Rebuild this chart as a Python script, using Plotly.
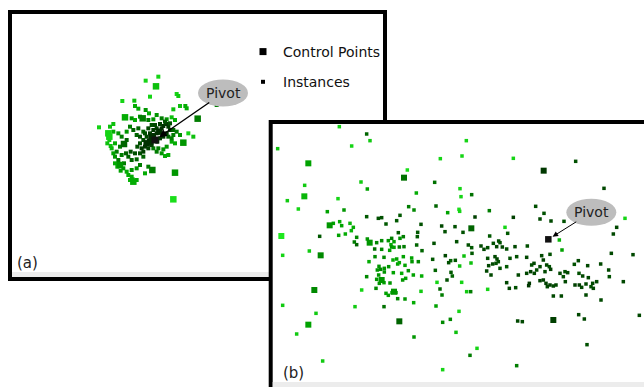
import plotly.graph_objects as go

W, H = 644, 387

# ---------------- Panel (a) data (projection coordinates) ----------------
a_inst_x = [437, 475, 450, 530, 535, 367, 403, 405, 415, 437, 447, 520, 540, 556, 560, 650,
            297, 330, 340, 322, 332, 345, 395, 405, 420, 445, 460, 470, 485, 500, 515, 525,
            565, 580, 515, 525, 500, 490, 475, 485, 495, 505, 470, 460,
            340, 355, 365, 380, 390, 400, 415, 430, 410, 380, 360, 350, 345, 355, 345, 372,
            385, 395, 410, 420, 430, 405, 392, 378, 365,
            370, 380, 395, 385, 395, 410, 435, 445, 420, 410,
            425, 435, 462, 470, 485, 490, 498, 505, 510, 500, 490, 480, 472, 455, 445, 430,
            460, 470, 450, 440, 430, 420, 412, 420, 435, 445, 455, 465, 480, 495, 510, 520,
            530, 540, 520, 505, 515,
            328, 335, 340, 352, 362, 390, 398]
a_inst_y = [242, 230, 290, 282, 288, 303, 302, 318, 326, 330, 340, 328, 318, 318, 325, 315,
            382, 380, 372, 430, 438, 430, 355, 360, 350, 360, 358, 345, 355, 358, 352, 360,
            400, 410, 425, 430, 440, 448, 445, 460, 468, 465, 455, 445,
            395, 400, 410, 395, 380, 390, 385, 395, 405, 420, 440, 455, 470, 480, 490, 490,
            470, 480, 478, 460, 470, 460, 455, 460, 465,
            505, 515, 510, 525, 530, 540, 520, 500, 495, 505,
            445, 440, 405, 400, 385, 378, 372, 380, 390, 400, 410, 415, 425, 435, 445, 455,
            390, 385, 400, 410, 420, 430, 440, 410, 400, 385, 375, 375, 372, 365, 370, 390,
            395, 405, 405, 410, 415,
            420, 445, 460, 500, 512, 540, 538]
a_inst_c = [0.1, 0.1, 0.1, 0.1, 0.15, 0.1, 0.2, 0.3, 0.3, 0.4, 0.3, 0.2, 0.2, 0.3, 0.3, 0.5,
            0.1, 0.2, 0.2, 0.2, 0.2, 0.3, 0.4, 0.3, 0.4, 0.5, 0.4, 0.4, 0.5, 0.4, 0.2, 0.3,
            0.1, 0.2, 0.3, 0.3, 0.4, 0.4, 0.5, 0.4, 0.3, 0.3, 0.5, 0.5,
            0.3, 0.4, 0.5, 0.4, 0.5, 0.6, 0.6, 0.6, 0.6, 0.6, 0.5, 0.5, 0.4, 0.5, 0.3, 0.5,
            0.6, 0.6, 0.6, 0.7, 0.6, 0.7, 0.7, 0.6, 0.5,
            0.4, 0.3, 0.4, 0.3, 0.3, 0.3, 0.3, 0.5, 0.5, 0.4,
            0.85, 0.85, 0.9, 0.9, 0.9, 0.9, 0.85, 0.85, 0.8, 0.85, 0.85, 0.85, 0.85, 0.8, 0.8, 0.8,
            0.85, 0.8, 0.8, 0.75, 0.7, 0.7, 0.7, 0.7, 0.7, 0.75, 0.7, 0.75, 0.8, 0.7, 0.7, 0.6,
            0.5, 0.4, 0.5, 0.6, 0.5,
            0.15, 0.25, 0.35, 0.3, 0.35, 0.25, 0.3]

a_ctrl_x = [468, 593, 375, 325, 328, 428, 550, 372, 360, 400, 457, 525, 520, 440, 450, 455, 478]
a_ctrl_y = [259, 356, 352, 400, 410, 355, 428, 432, 495, 545, 510, 518, 598, 430, 425, 410, 395]
a_ctrl_c = [0.2, 0.5, 0.3, 0.1, 0.1, 0.5, 0.4, 0.6, 0.4, 0.3, 0.5, 0.4, 0.05, 0.9, 0.9, 0.9, 0.9]

a_pivot_x = [465]
a_pivot_y = [420]

# ---------------- Panel (b) data (projection coordinates) ----------------
b_inst_x = [238, 320, 330, 275, 53, 619, 606, 541, 760, 947, 442, 303, 524, 134, 322, 600, 1032, 469,
            635, 603, 234, 82, 528, 446, 597, 599, 115, 462, 252, 202, 563, 688, 827, 852, 320, 355,
            365, 410, 420, 378, 645, 760, 840, 873, 912, 1095, 1070, 1060, 220, 239, 245, 270, 280,
            274, 236, 256, 179, 290, 483, 545, 585, 735, 473, 472, 415, 430, 420, 395, 402, 555,
            609, 689, 743, 716, 720, 898, 322, 350, 365, 385, 393, 290, 283, 344, 365, 389, 395,
            402, 418, 432, 470, 522, 590, 625, 635, 663, 672, 683, 700, 710, 727, 740, 765, 802,
            68, 148, 345, 372, 410, 399, 430, 455, 486, 518, 556, 572, 586, 612, 636, 683, 705,
            711, 715, 750, 770, 800, 845, 870, 906, 1054, 1119, 327, 357, 373, 386, 413, 418, 435,
            456, 475, 566, 599, 633, 686, 698, 708, 740, 815, 822, 850, 840, 860, 868, 943, 955,
            983, 1022, 352, 362, 373, 356, 400, 425, 445, 460, 485, 526, 573, 577, 680, 693, 720,
            775, 800, 812, 823, 830, 855, 872, 900, 915, 923, 957, 968, 985, 1046, 1048, 320, 358,
            372, 350, 390, 396, 408, 428, 437, 531, 561, 605, 620, 683, 740, 748, 767, 808, 806,
            840, 850, 858, 862, 870, 880, 888, 910, 916, 945, 958, 965, 978, 993, 998, 1010, 1000,
            1090, 305, 348, 378, 385, 483, 540, 546, 632, 880, 904, 978, 1023, 413, 435, 461, 528,
            372, 285, 68, 168, 110, 548, 571, 597, 588, 462, 773, 787, 956, 973, 1138, 981, 651,
            630, 188, 770, 548]
b_inst_y = [50, 72, 92, 108, 116, 92, 138, 146, 145, 154, 180, 216, 217, 226, 237, 236, 235, 249,
            254, 260, 266, 272, 288, 290, 298, 304, 297, 300, 300, 305, 308, 302, 289, 310, 320, 325,
            323, 332, 316, 342, 321, 322, 327, 333, 334, 325, 352, 372, 340, 335, 347, 340, 352,
            362, 376, 372, 379, 382, 343, 348, 350, 352, 367, 380, 368, 380, 385, 385, 395, 365,
            367, 378, 370, 393, 398, 390, 387, 398, 392, 392, 404, 404, 396, 417, 418, 421, 411,
            412, 411, 410, 405, 400, 395, 405, 413, 408, 418, 413, 400, 410, 411, 417, 410, 408,
            436, 423, 440, 442, 447, 450, 440, 444, 422, 448, 437, 452, 451, 438, 430, 445, 440,
            447, 455, 445, 440, 442, 437, 433, 420, 430, 434, 455, 469, 475, 470, 462, 458, 466,
            455, 455, 458, 468, 459, 467, 462, 460, 470, 465, 460, 450, 470, 465, 470, 463, 452,
            467, 462, 480, 478, 486, 495, 488, 490, 482, 495, 498, 481, 487, 498, 483, 495, 475,
            495, 490, 485, 490, 480, 485, 478, 490, 485, 488, 490, 498, 503, 480, 500, 500, 520,
            518, 508, 519, 548, 548, 510, 505, 517, 510, 517, 545, 538, 518, 535, 533, 520, 527,
            512, 510, 520, 530, 525, 528, 525, 500, 515, 525, 525, 532, 522, 530, 520, 515, 535,
            515, 540, 535, 550, 556, 544, 537, 555, 545, 558, 558, 555, 570, 566, 567, 578, 588,
            590, 590, 586, 610, 672, 637, 628, 604, 667, 681, 633, 635, 614, 627, 616, 704, 715,
            736, 753, 767, 779]
b_inst_c = [0.1, 0.6, 0.15, 0.1, 0.2, 0.1, 0.1, 0.1, 0.1, 0.7, 0.05, 0.15, 0.55, 0.15, 0.35, 0.1, 0.75, 0.3,
            0.55, 0.1, 0.1, 0.15, 0.6, 0.5, 0.05, 0.1, 0.1, 0.45, 0.4, 0.35, 0.35, 0.5, 0.7, 0.7, 0.65, 0.7,
            0.7, 0.65, 0.65, 0.65, 0.8, 0.8, 0.75, 0.75, 0.7, 0.1, 0.75, 0.75, 0.35, 0.3, 0.35, 0.25, 0.3,
            0.25, 0.35, 0.3, 0.65, 0.45, 0.7, 0.75, 0.7, 0.1, 0.65, 0.65, 0.65, 0.5, 0.4, 0.5, 0.35, 0.7,
            0.7, 0.65, 0.65, 0.7, 0.7, 0.25, 0.4, 0.45, 0.45, 0.4, 0.3, 0.6, 0.5, 0.55, 0.45, 0.35, 0.4,
            0.35, 0.5, 0.5, 0.6, 0.7, 0.7, 0.7, 0.65, 0.75, 0.75, 0.7, 0.7, 0.75, 0.75, 0.7, 0.75, 0.7,
            0.1, 0.15, 0.45, 0.45, 0.35, 0.3, 0.35, 0.35, 0.6, 0.65, 0.75, 0.6, 0.65, 0.2, 0.65, 0.7, 0.75,
            0.75, 0.7, 0.7, 0.7, 0.75, 0.75, 0.7, 0.35, 0.75, 0.75, 0.3, 0.4, 0.4, 0.4, 0.35, 0.3, 0.35,
            0.4, 0.45, 0.7, 0.2, 0.2, 0.75, 0.75, 0.7, 0.65, 0.7, 0.75, 0.8, 0.75, 0.75, 0.7, 0.7, 0.75,
            0.75, 0.75, 0.4, 0.45, 0.4, 0.4, 0.35, 0.3, 0.4, 0.35, 0.3, 0.6, 0.65, 0.6, 0.75, 0.75, 0.7,
            0.75, 0.75, 0.8, 0.75, 0.7, 0.75, 0.8, 0.75, 0.7, 0.75, 0.7, 0.75, 0.75, 0.75, 0.7, 0.45, 0.4,
            0.35, 0.4, 0.4, 0.35, 0.4, 0.4, 0.35, 0.1, 0.7, 0.1, 0.15, 0.1, 0.75, 0.75, 0.7, 0.85, 0.85,
            0.8, 0.8, 0.8, 0.75, 0.8, 0.75, 0.75, 0.7, 0.75, 0.8, 0.8, 0.75, 0.75, 0.7, 0.75, 0.75, 0.75,
            0.75, 0.1, 0.45, 0.35, 0.35, 0.15, 0.6, 0.5, 0.5, 0.75, 0.75, 0.75, 0.75, 0.45, 0.4, 0.3, 0.35,
            0.55, 0.15, 0.15, 0.15, 0.15, 0.45, 0.45, 0.1, 0.2, 0.4, 0.75, 0.75, 0.75, 0.75, 0.75, 0.7, 0.1,
            0.5, 0.15, 0.5, 0.1]

b_ctrl_x = [145, 851, 432, 133, 209, 634, 64, 329, 182, 365, 402, 163, 145, 418, 880]
b_ctrl_y = [160, 182, 203, 259, 346, 355, 378, 398, 436, 510, 545, 540, 644, 634, 630]
b_ctrl_c = [0.35, 0.85, 0.55, 0.25, 0.4, 0.6, 0.0, 0.4, 0.45, 0.4, 0.4, 0.45, 0.35, 0.6, 0.8]

b_pivot_x = [865]
b_pivot_y = [388]

legend_labels = ["Control Points", "Instances"]
panel_labels = ["(a)", "(b)"]
pivot_label = "Pivot"

# ---------------- styling ----------------
FONT = "DejaVu Sans"
greens = [[0.0, "#1ee81e"], [0.35, "#00a200"], [0.65, "#005800"], [0.9, "#003000"], [1.0, "#111111"]]


def px_x(p):
    return p / W


def px_y(p):
    return 1 - p / H


fig = go.Figure()


def add_points(xs, ys, cs, size, xa, ya):
    fig.add_trace(go.Scatter(
        x=xs, y=ys, mode="markers", xaxis=xa, yaxis=ya, showlegend=False,
        marker=dict(symbol="square", size=size, color=cs, colorscale=greens,
                    cmin=0, cmax=1, line=dict(width=0)),
        hoverinfo="skip"))


add_points(a_inst_x, a_inst_y, a_inst_c, 4, "x", "y")
add_points(a_ctrl_x, a_ctrl_y, a_ctrl_c, 6.5, "x", "y")
add_points(a_pivot_x, a_pivot_y, [1.0], 7, "x", "y")
add_points(b_inst_x, b_inst_y, b_inst_c, 3.5, "x2", "y2")
add_points(b_ctrl_x, b_ctrl_y, b_ctrl_c, 6, "x2", "y2")
add_points(b_pivot_x, b_pivot_y, [1.0], 6.5, "x2", "y2")

# legend entries
for name, sz, grp in zip(legend_labels, [7, 4], ["g1", "g2"]):
    fig.add_trace(go.Scatter(x=[None], y=[None], mode="markers", name=name,
                             legendgroup=grp,
                             marker=dict(symbol="square", size=sz, color="#000000")))

shapes = []
# panel (a) frame
shapes.append(dict(type="rect", xref="paper", yref="paper", layer="below",
                   x0=px_x(10), x1=px_x(385), y0=px_y(279), y1=px_y(12),
                   line=dict(color="black", width=4), fillcolor="white"))
shapes.append(dict(type="rect", xref="paper", yref="paper", layer="below",
                   x0=px_x(12), x1=px_x(383), y0=px_y(277), y1=px_y(272),
                   line=dict(width=0), fillcolor="#ececec"))
# panel (b) frame
shapes.append(dict(type="rect", xref="paper", yref="paper", layer="below",
                   x0=px_x(270.7), x1=px_x(700), y0=px_y(450), y1=px_y(122),
                   line=dict(color="black", width=4), fillcolor="white"))
shapes.append(dict(type="rect", xref="paper", yref="paper", layer="below",
                   x0=px_x(272.7), x1=px_x(644), y0=px_y(387), y1=px_y(382),
                   line=dict(width=0), fillcolor="#ececec"))

annotations = []
for (pxs, pys, xa, ya, ox, oy, aw) in [(a_pivot_x, a_pivot_y, "x", "y", 68, -47, 1.4),
                                       (b_pivot_x, b_pivot_y, "x2", "y2", 43, -27, 1.0)]:
    shapes.append(dict(type="circle", xref=xa, yref=ya, layer="above",
                       xsizemode="pixel", ysizemode="pixel",
                       xanchor=pxs[0], yanchor=pys[0],
                       x0=ox - 25, x1=ox + 25, y0=-oy - 13.5, y1=-oy + 13.5,
                       line=dict(width=0), fillcolor="#bdbdbd"))
    annotations.append(dict(x=pxs[0], y=pys[0], xref=xa, yref=ya, text=pivot_label,
                            showarrow=True, ax=ox, ay=oy, arrowhead=2, arrowsize=1.1,
                            arrowwidth=aw, arrowcolor="#000000", standoff=5,
                            font=dict(family=FONT, size=14, color="#222222")))

annotations.append(dict(x=px_x(15), y=px_y(263), xref="paper", yref="paper", text=panel_labels[0],
                        showarrow=False, xanchor="left", yanchor="middle",
                        font=dict(family=FONT, size=15, color="#222222")))
annotations.append(dict(x=px_x(281), y=px_y(373), xref="paper", yref="paper", text=panel_labels[1],
                        showarrow=False, xanchor="left", yanchor="middle",
                        font=dict(family=FONT, size=15, color="#222222")))

axis_common = dict(showgrid=False, zeroline=False, showticklabels=False, showline=False,
                   ticks="", fixedrange=True)

fig.update_layout(
    width=W, height=H, margin=dict(l=0, r=0, t=0, b=0),
    paper_bgcolor="white", plot_bgcolor="rgba(0,0,0,0)",
    xaxis=dict(domain=[px_x(12), px_x(383)], range=[36, 1149], **axis_common),
    yaxis=dict(domain=[px_y(272), px_y(14)], range=[816, 42], **axis_common),
    xaxis2=dict(domain=[px_x(273), 1.0], range=[39, 1152], anchor="y2", **axis_common),
    yaxis2=dict(domain=[px_y(382), px_y(124)], range=[816, 42], anchor="x2", **axis_common),
    shapes=shapes, annotations=annotations,
    showlegend=True,
    legend=dict(x=px_x(243), y=px_y(36), xanchor="left", yanchor="top",
                bgcolor="rgba(0,0,0,0)", traceorder="grouped", tracegroupgap=9,
                font=dict(family=FONT, size=14, color="#111111")),
)

fig.write_html("out.html")
